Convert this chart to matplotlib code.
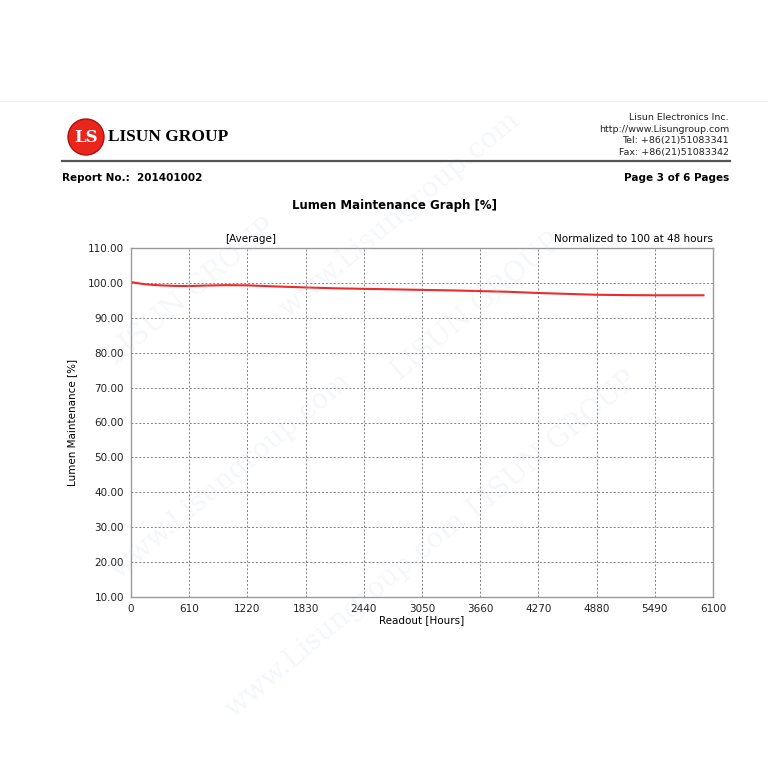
import matplotlib.pyplot as plt
import matplotlib.patches as mpatches
import matplotlib.lines as mlines
import numpy as np

# readout hours and averaged lumen maintenance (%)
hours = [0, 48, 150, 300, 450, 610, 800, 1000, 1220, 1500, 1830, 2140, 2440,
         2750, 3050, 3360, 3660, 3960, 4270, 4580, 4880, 5190, 5490, 5800, 6000]
lumen = [100.3, 100.0, 99.6, 99.3, 99.15, 99.1, 99.25, 99.35, 99.3, 99.0, 98.7,
         98.45, 98.3, 98.15, 98.0, 97.85, 97.65, 97.45, 97.1, 96.85, 96.6,
         96.5, 96.45, 96.45, 96.45]

x_ticks = np.arange(0, 6101, 610)
y_ticks = np.arange(10, 111, 10)

fig = plt.figure(figsize=(7.68, 7.68), dpi=100)
fig.patch.set_facecolor('white')

# faint watermark
for (wx, wy, txt) in [(0.25, 0.62, 'LISUN GROUP'), (0.52, 0.72, 'www.Lisungroup.com'),
                      (0.62, 0.6, 'LISUN GROUP'), (0.3, 0.38, 'www.Lisungroup.com'),
                      (0.72, 0.42, 'LISUN GROUP'), (0.45, 0.2, 'www.Lisungroup.com')]:
    fig.text(wx, wy, txt, rotation=40, fontsize=20, color='#c9d3ea', alpha=0.18,
             ha='center', va='center', family='serif', zorder=0)

# page edge line
fig.add_artist(mlines.Line2D([0, 1], [1 - 101 / 768] * 2, color='#eeeeee', lw=0.8))

# header
fig.add_artist(mpatches.Ellipse((86 / 768, 1 - 137 / 768), 36 / 768, 36 / 768,
                                color='#e8261c', ec='#b01010', lw=1))
fig.text(86 / 768, 1 - 137 / 768, 'LS', color='white', fontsize=12, fontweight='bold',
         ha='center', va='center', family='DejaVu Serif')
fig.text(108 / 768, 1 - 137 / 768, 'LISUN GROUP', fontsize=12.5, fontweight='bold',
         ha='left', va='center', family='Liberation Serif')
rx = 729 / 768
for i, line in enumerate(['Lisun Electronics Inc.', 'http://www.Lisungroup.com',
                          'Tel: +86(21)51083341', 'Fax: +86(21)51083342']):
    fig.text(rx, 1 - (118 + i * 11.5) / 768, line, fontsize=6.8, ha='right', va='center',
             color='#222222')
fig.add_artist(mlines.Line2D([62 / 768, 730 / 768], [1 - 161 / 768] * 2,
                             color='#555555', lw=1.6))
fig.text(62 / 768, 1 - 178 / 768, 'Report No.:  201401002', fontsize=7.5,
         fontweight='bold', ha='left', va='center')
fig.text(rx, 1 - 178 / 768, 'Page 3 of 6 Pages', fontsize=7.5, fontweight='bold',
         ha='right', va='center')
fig.text(395 / 768, 1 - 205 / 768, 'Lumen Maintenance Graph [%]', fontsize=8.5,
         fontweight='bold', ha='center', va='center')

ax = fig.add_axes([131 / 768, 1 - 597 / 768, 582 / 768, 349 / 768])
ax.plot(hours, lumen, color='#ee2a2a', lw=1.5)
ax.set_xlim(0, 6100)
ax.set_ylim(10, 110)
ax.set_xticks(x_ticks)
ax.set_yticks(y_ticks)
ax.set_yticklabels(['%.2f' % v for v in y_ticks])
ax.tick_params(length=0, labelsize=7.5, colors='#222222', pad=5)
ax.grid(True, color='#808080', ls=(0, (2, 2)), lw=0.7)
for s in ax.spines.values():
    s.set_color('#999999')
    s.set_linewidth(1)
ax.set_facecolor('none')
ax.set_xlabel('Readout [Hours]', fontsize=7.5, labelpad=1)
ax.set_ylabel('Lumen Maintenance [%]', fontsize=7.5, labelpad=8)
ax.text(0.205, 1.025, '[Average]', transform=ax.transAxes, fontsize=7.5,
        ha='center', va='center')
ax.text(1.0, 1.025, 'Normalized to 100 at 48 hours', transform=ax.transAxes,
        fontsize=7.5, ha='right', va='center')

plt.savefig('out.png', dpi=100)
